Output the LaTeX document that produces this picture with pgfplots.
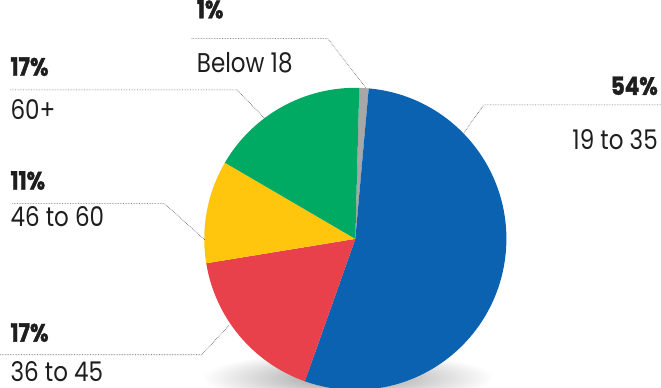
\documentclass[border=0pt]{standalone}
\usepackage{fontspec}
\setmainfont{Poppins}[FakeStretch=0.85, BoldFeatures={FakeBold=1.5}]
\usepackage{pgfplots}
\usepackage{pgfplotstable}
\pgfplotsset{compat=1.18}
\definecolor{cgrey}{HTML}{A8A6A6}
\definecolor{cblue}{HTML}{0A62B0}
\definecolor{cred}{HTML}{E8414B}
\definecolor{cyellow}{HTML}{FFC60D}
\definecolor{cgreen}{HTML}{00AA63}
\definecolor{txt}{HTML}{1E1E1E}

\pgfplotstableread{
label value color
Below18 1 cgrey
19to35 54 cblue
36to45 17 cred
46to60 11 cyellow
60plus 17 cgreen
}\agedata

\begin{document}
\begin{tikzpicture}[
  pct/.style={font=\fontsize{25}{25}\selectfont\bfseries, text=txt, inner sep=0pt},
  lab/.style={font=\fontsize{27}{27}\selectfont, text=txt, inner sep=0pt},
  lead/.style={densely dotted, line width=0.6pt, black!70}]
\begin{axis}[scale only axis, width=661bp, height=395bp,
  xmin=0, xmax=661, ymin=0, ymax=395, hide axis, clip=true]
\shade[inner color=black!40, outer color=white] (axis cs:350,10) ellipse [x radius=145bp, y radius=26bp];
\gdef\cum{0}
\pgfplotsinvokeforeach{0,...,4}{%
  \pgfplotstablegetelem{#1}{value}\of\agedata \let\val\pgfplotsretval
  \pgfplotstablegetelem{#1}{color}\of\agedata \let\col\pgfplotsretval
  \pgfmathsetmacro\sa{88.5-3.6*\cum}
  \pgfmathsetmacro\ea{88.5-3.6*(\cum+\val)}
  \pgfmathsetmacro\tmpc{\cum+\val}
  \xdef\cum{\tmpc}
  \edef\slice{\noexpand\fill[\col] (axis cs:357.5,148) -- ++(\sa:150bp) arc[start angle=\sa, end angle=\ea, radius=150bp] -- cycle;}
  \slice
}
% leader lines
\draw[lead] (axis cs:195,347) -- (axis cs:330,347) -- (axis cs:368,298);
\draw[lead] (axis cs:661,281) -- (axis cs:485,281) -- (axis cs:465,253);
\draw[lead] (axis cs:15,296) -- (axis cs:240,296) -- (axis cs:268,267);
\draw[lead] (axis cs:17,183) -- (axis cs:168,183) -- (axis cs:208,147);
\draw[lead] (axis cs:5,33) -- (axis cs:205,33) -- (axis cs:232,62);
% labels
\node[pct, anchor=base west] at (axis cs:200,367) {1\%};
\node[lab, anchor=base west] at (axis cs:200,313) {Below 18};
\node[pct, anchor=base east] at (axis cs:658,291) {54\%};
\node[lab, anchor=base east] at (axis cs:658,237) {19 to 35};
\node[pct, anchor=base west] at (axis cs:15,310) {17\%};
\node[lab, anchor=base west] at (axis cs:15,267) {60+};
\node[pct, anchor=base west] at (axis cs:15,197) {11\%};
\node[lab, anchor=base west] at (axis cs:15,160) {46 to 60};
\node[pct, anchor=base west] at (axis cs:15,46) {17\%};
\node[lab, anchor=base west] at (axis cs:15,6) {36 to 45};
\end{axis}
\end{tikzpicture}
\end{document}
